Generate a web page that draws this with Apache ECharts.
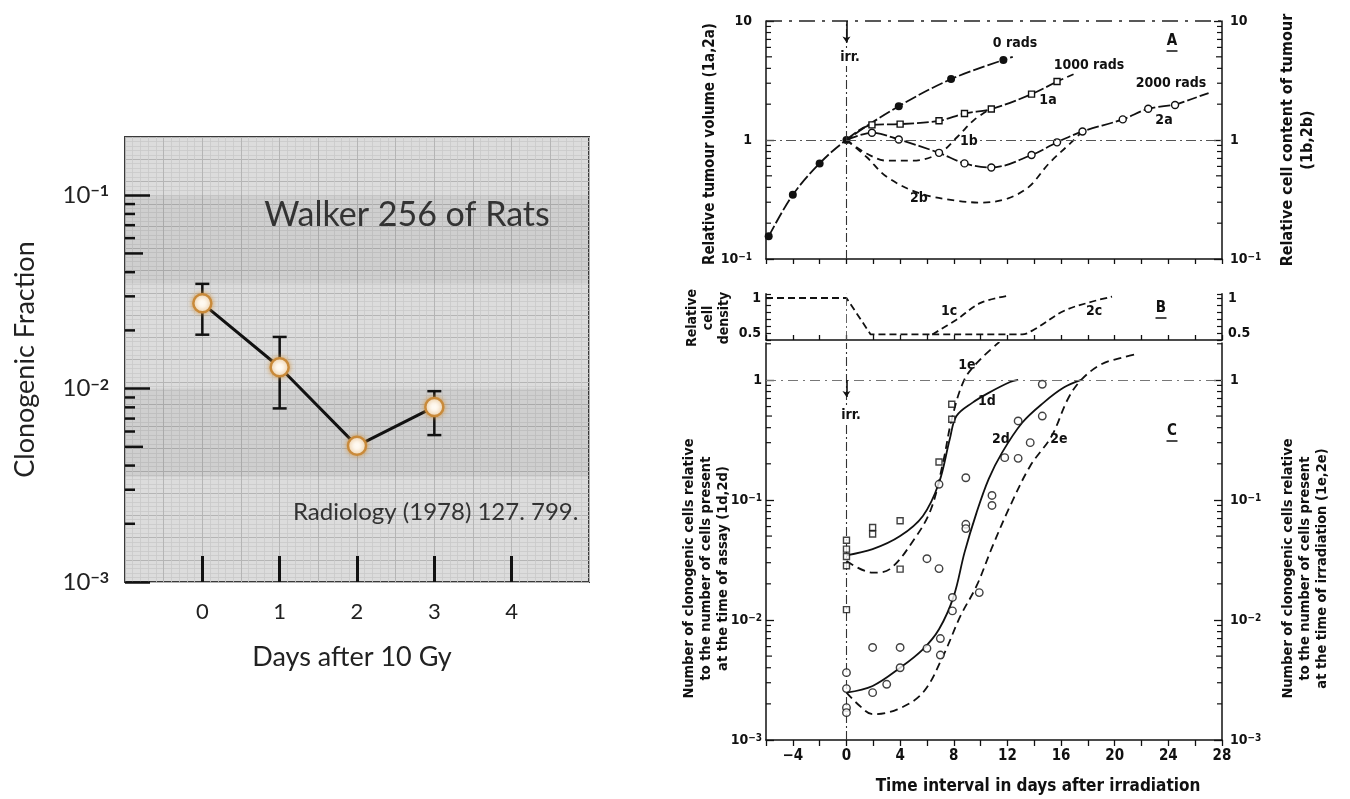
<!DOCTYPE html>
<html><head><meta charset="utf-8">
<script src="https://cdn.jsdelivr.net/npm/echarts@6/dist/echarts.min.js"></script>
<style>html,body{margin:0;padding:0;background:#fff}#c{width:1350px;height:799px}</style>
</head><body><div id="c"></div><script>
// ---------- Left panel data (Walker 256) ----------
const L_DAYS = [0, 1, 2, 3];
const L_FRACTION = [0.0276, 0.0129, 0.00506, 0.00804];
const L_ERR_LOW = [0.019, 0.0079, null, 0.00575];
const L_ERR_HIGH = [0.0348, 0.0185, null, 0.0097];
const L_X_LABELS = [0, 1, 2, 3, 4];
const L_Y_MAJOR = [0.001, 0.01, 0.1];
const L_Y_MINOR = [0.002,0.003,0.004,0.005,0.006,0.007,0.008,0.009,0.02,0.03,0.04,0.05,0.06,0.07,0.08,0.09];

// ---------- Right panel A ----------
const A_0RADS = [[-5.8,0.155],[-4,0.346],[-2,0.636],[0,1],[3.9,1.92],[7.8,3.25],[11.7,4.7]];
const A_0RADS_TAIL = [[11.7,4.7],[12.4,5.0]];
const A_1A = [[0,1],[1.9,1.34],[4.0,1.36],[6.9,1.45],[8.8,1.67],[10.8,1.82],[13.8,2.43],[15.7,3.1]];
const A_1A_TAIL = [[15.7,3.1],[17,3.6]];
const A_1B = [[0,1],[1.5,0.77],[3,0.67],[4.9,0.67],[6.9,0.77],[8.3,1.07],[9.5,1.47],[10.6,1.79]];
const A_2A = [[0,1],[1.9,1.15],[3.9,1.01],[6.9,0.78],[8.8,0.636],[10.8,0.588],[13.8,0.747],[15.7,0.956],[17.6,1.18],[20.6,1.49],[22.5,1.83],[24.5,1.97]];
const A_2A_TAIL = [[24.5,1.97],[27,2.48]];
const A_2B = [[0,1],[1.5,0.72],[3,0.49],[5.5,0.355],[8.3,0.308],[10.1,0.298],[12,0.322],[13.6,0.404],[15.1,0.636],[16.7,0.94],[17.6,1.18]];
const A_Y_MAJOR = [0.1, 1, 10];
const A_Y_MINOR = [0.2,0.3,0.4,0.5,0.6,0.7,0.8,0.9,2,3,4,5,6,7,8,9];

// ---------- Right panel B ----------
const B_COMMON = [[-6,1],[0,1],[1.8,0.48],[6.4,0.48]];
const B_1C = [[6.4,0.48],[8.2,0.69],[10,0.93],[12,1.03]];
const B_2C = [[6.4,0.48],[13.1,0.48],[14,0.55],[16.2,0.815],[18.1,0.937],[19.8,1.02]];

// ---------- Right panel C ----------
const C_1D = [[0,0.0346],[1.95,0.0389],[4,0.05],[5.7,0.0736],[6.9,0.139],[7.7,0.32],[8.2,0.5],[9.4,0.647],[10.6,0.78],[12.2,0.96],[12.8,1.0]];
const C_1E = [[0,0.031],[1.95,0.0248],[3.2,0.0264],[5.05,0.047],[6.3,0.0836],[7.2,0.205],[7.85,0.47],[8.8,1.01],[10,1.49],[11.4,2.07]];
const C_2D = [[0,0.00248],[1.95,0.00282],[4,0.004],[5.7,0.0057],[6.9,0.00836],[8,0.0158],[8.8,0.0364],[9.7,0.0784],[10.6,0.149],[11.6,0.248],[13.1,0.44],[14.7,0.647],[16.2,0.863],[17.5,1.0]];
const C_2E = [[0,0.00248],[1,0.00192],[1.95,0.00164],[3.8,0.0018],[5.7,0.00248],[7.2,0.005],[8.5,0.0108],[9.7,0.0192],[10.9,0.0414],[12.2,0.089],[13.7,0.192],[15.3,0.341],[16.5,0.69],[17.5,1.0],[19,1.35],[20.6,1.54],[21.6,1.64]];
const C_SQUARES = [[0,0.0462],[0,0.0389],[0,0.0338],[0,0.0283],[0,0.0122],[1.95,0.059],[1.95,0.052],[4,0.067],[4,0.0265],[6.9,0.207],[7.85,0.627],[7.85,0.47]];
const C_CIRCLES = [[6.9,0.135],[8.9,0.153],[8.9,0.0627],[8.9,0.0577],[6,0.0324],[6.9,0.0268],[14.6,0.92],[12.8,0.455],[14.6,0.5],[11.8,0.225],[12.8,0.222],[13.7,0.3],[10.85,0.109],[10.85,0.09],[9.9,0.0169],[7.9,0.0154],[7.9,0.0119],[1.95,0.0059],[4,0.0059],[6,0.0058],[7,0.007],[7,0.0051],[4,0.004],[0,0.00364],[0,0.00268],[0,0.00186],[0,0.00169],[1.95,0.00248],[3,0.00291]];
const C_Y_MAJOR = [0.001, 0.01, 0.1, 1];
const C_Y_MINOR = [0.002,0.003,0.004,0.005,0.006,0.007,0.008,0.009,0.02,0.03,0.04,0.05,0.06,0.07,0.08,0.09,0.2,0.3,0.4,0.5,0.6,0.7,0.8,0.9,2];
const X_LABEL_DAYS = [-4, 0, 4, 8, 12, 16, 20, 24, 28];

// ---------- styling ----------
const RF = "'DejaVu Sans Condensed','Liberation Sans Narrow',sans-serif";
const LF = "Lato,'Open Sans',sans-serif";
const INK = '#111';
const BW = 'bold';

function supLabel(v){
  const lg = Math.log10(v), e = Math.round(lg);
  if (Math.abs(lg - e) > 0.01) return '';
  if (e === 0) return '{b|1}';
  if (e === 1) return '{b|10}';
  return '{b|10}{s|' + (e < 0 ? '\u2212' : '') + Math.abs(e) + '}';
}
const richR = {b:{fontFamily:RF,fontSize:14,fontWeight:BW,color:INK,verticalAlign:'bottom'}, s:{fontFamily:RF,fontSize:10,fontWeight:BW,color:INK,verticalAlign:'top'}};
const richL = {b:{fontFamily:LF,fontSize:24,color:'#222',verticalAlign:'bottom'}, s:{fontFamily:LF,fontSize:16,fontWeight:'bold',color:'#222',verticalAlign:'top'}};

function tickSeries(xi, yi, xEdge, dir, values, lenOf, width){
  return {type:'custom', xAxisIndex:xi, yAxisIndex:yi, silent:true, z:6, clip:false,
    encode:{x:0,y:1},
    data: values.map(v => [xEdge, v]),
    renderItem(params, api){
      const v = api.value(1);
      const p = api.coord([api.value(0), v]);
      const L = lenOf(v);
      return {type:'line', shape:{x1:p[0],y1:p[1],x2:p[0]+dir*L,y2:p[1]}, style:{stroke:INK,lineWidth:width}};
    }};
}
function isFive(v){ const m = v / Math.pow(10, Math.floor(Math.log10(v)+1e-9)); return Math.abs(m-5) < 1e-6; }
function noFirst(arr){ return arr.map((p,i) => i === 0 ? {value:p, symbol:'none'} : p); }

const grids = [
  {left:125, top:137, width:464, height:445, show:true, backgroundColor:'#dcdcdc', borderColor:'#3a3a3a', borderWidth:2, outerBoundsMode:'none'},
  {left:766, top:21, width:456, height:238, outerBoundsMode:'none'},
  {left:766, top:293.8, width:456, height:46.2, outerBoundsMode:'none'},
  {left:766, top:343, width:456, height:397, outerBoundsMode:'none'}
];
const hidden = {axisLine:{show:false, onZero:false}, axisTick:{show:false}, axisLabel:{show:false}};
const rightX = (gi, inside, extra) => Object.assign({gridIndex:gi, type:'value', min:-6, max:28, interval:2,
  axisLine:{show:true, onZero:false, lineStyle:{color:INK, width:1.5}},
  axisTick:{show:true, inside:inside, length:5, lineStyle:{color:INK, width:1.3}},
  axisLabel:{show:false}, splitLine:{show:false}}, extra || {});
const rightLogY = (gi, pos, min, max, major, margin, extra) => Object.assign({gridIndex:gi, type:'log', logBase:10, min:min, max:max, position:pos,
  axisLine:{show:true, onZero:false, lineStyle:{color:INK, width:1.5}},
  axisTick:{show:true, inside:true, length:8, customValues:major, lineStyle:{color:INK, width:1.3}},
  axisLabel:{customValues:major, formatter:supLabel, rich:richR, margin:margin},
  splitLine:{show:false}, nameMoveOverlap:false}, extra || {});
const bY = (pos) => ({gridIndex:2, type:'value', min:0.4, max:1.06, interval:0.1, position:pos,
  axisLine:{show:true, onZero:false, lineStyle:{color:INK, width:1.5}},
  axisTick:{show:true, inside:true, length:5, lineStyle:{color:INK, width:1.2}},
  axisLabel:{fontFamily:RF, fontSize:14, fontWeight:BW, color:INK, margin: pos==='left'?5:6,
    formatter: v => Math.abs(v-1) < 1e-6 ? '1' : (Math.abs(v-0.5) < 1e-6 ? '0.5' : '')},
  splitLine:{show:false}});

const xAxes = [
  {gridIndex:0, type:'value', min:-1, max:5, interval:1,
   axisLine:{show:false, onZero:false},
   axisTick:{show:true, inside:true, length:26, customValues:L_X_LABELS, lineStyle:{color:INK, width:3}},
   axisLabel:{customValues:L_X_LABELS, fontFamily:LF, fontSize:22, color:'#222', margin:19,
     formatter: v => (v >= 0 && v <= 4) ? String(v) : ''},
   splitLine:{show:false},
   name:'Days after 10 Gy', nameLocation:'middle', nameGap:62, nameMoveOverlap:false,
   nameTextStyle:{fontFamily:LF, fontSize:27, color:'#222', padding:[0,10,0,0]}},
  Object.assign({gridIndex:0, type:'value', min:0, max:12, interval:1,
   splitLine:{show:true, lineStyle:{color:'#b5b5b5', width:1}},
   minorTick:{show:false, splitNumber:5},
   minorSplitLine:{show:true, lineStyle:{color:'#c9c9c9', width:0.8}}}, hidden),
  rightX(1, false),
  rightX(2, true),
  rightX(3, false, {
    axisTick:{show:true, inside:false, length:6, lineStyle:{color:INK, width:1.3}},
    axisLabel:{show:true, customValues:X_LABEL_DAYS, fontFamily:RF, fontSize:15, fontWeight:BW, color:INK, margin:9,
      formatter: v => (v % 4 === 0 && v >= -4) ? (v < 0 ? '\u2212' + (-v) : String(v)) : ''},
    name:'Time interval in days after irradiation', nameLocation:'middle', nameGap:38, nameMoveOverlap:false,
    nameTextStyle:{fontFamily:RF, fontSize:17, fontWeight:BW, color:INK, padding:[0,0,0,88]}})
];

const yAxes = [
  {gridIndex:0, type:'log', logBase:10, min:0.001, max:0.2,
   axisLine:{show:false, onZero:false},
   axisTick:{show:true, inside:true, length:25, customValues:L_Y_MAJOR, lineStyle:{color:INK, width:2.5}},
   axisLabel:{customValues:L_Y_MAJOR, formatter:supLabel, rich:richL, margin:16},
   splitLine:{show:false},
   name:'Clonogenic Fraction', nameLocation:'middle', nameGap:86, nameMoveOverlap:false,
   nameTextStyle:{fontFamily:LF, fontSize:27, color:'#222'}},
  Object.assign({gridIndex:0, type:'value', min:0, max:100, interval:5,
   splitLine:{show:true, lineStyle:{color:'#b5b5b5', width:1}},
   minorTick:{show:false, splitNumber:5},
   minorSplitLine:{show:true, lineStyle:{color:'#c9c9c9', width:0.8}}}, hidden),
  rightLogY(1, 'left', 0.1, 10, A_Y_MAJOR, 14, {name:'Relative tumour volume (1a,2a)', nameLocation:'middle', nameGap:48,
    nameTextStyle:{fontFamily:RF, fontSize:15, fontWeight:BW, color:INK, padding:[0,8,0,0]}}),
  rightLogY(1, 'right', 0.1, 10, A_Y_MAJOR, 8, {name:'Relative cell content of tumour\n(1b,2b)', nameLocation:'middle', nameGap:56, nameRotate:90,
    nameTextStyle:{fontFamily:RF, fontSize:16, fontWeight:BW, color:INK, lineHeight:20, align:'center'}}),
  bY('left'),
  bY('right'),
  rightLogY(3, 'left', 0.001, 2.03, C_Y_MAJOR, 4, {name:'Number of clonogenic cells relative\nto the number of cells present\nat the time of assay (1d,2d)', nameLocation:'middle', nameGap:34,
    nameTextStyle:{fontFamily:RF, fontSize:14.5, fontWeight:BW, color:INK, lineHeight:17, align:'center', padding:[0,54,0,0]}}),
  rightLogY(3, 'right', 0.001, 2.03, C_Y_MAJOR, 8, {name:'Number of clonogenic cells relative\nto the number of cells present\nat the time of irradiation (1e,2e)', nameLocation:'middle', nameGap:58, nameRotate:90,
    nameTextStyle:{fontFamily:RF, fontSize:14.5, fontWeight:BW, color:INK, lineHeight:17, align:'center', padding:[0,54,0,0]}})
];

const dashDot = [9,3,2,3];
const openSym = {color:'#fff', borderColor:INK, borderWidth:1.4};
const lineDefaults = {type:'line', smooth:0.35, animation:false, z:4};
const LW = 1.8;

const series = [
  // ---- left panel ----
  {type:'custom', name:'error', xAxisIndex:0, yAxisIndex:0, z:3, encode:{x:0, y:[1,2]},
   data: L_DAYS.map((d,i) => [d, L_ERR_LOW[i], L_ERR_HIGH[i]]).filter(r => r[1] != null),
   renderItem(params, api){
     const lo = api.coord([api.value(0), api.value(1)]);
     const hi = api.coord([api.value(0), api.value(2)]);
     const w = 7, st = {stroke:INK, lineWidth:2.5};
     return {type:'group', children:[
       {type:'line', shape:{x1:lo[0],y1:lo[1],x2:hi[0],y2:hi[1]}, style:st},
       {type:'line', shape:{x1:lo[0]-w,y1:lo[1],x2:lo[0]+w,y2:lo[1]}, style:st},
       {type:'line', shape:{x1:hi[0]-w,y1:hi[1],x2:hi[0]+w,y2:hi[1]}, style:st}]};
   }},
  {type:'line', name:'Clonogenic Fraction', xAxisIndex:0, yAxisIndex:0, z:5, animation:false,
   data: L_DAYS.map((d,i) => [d, L_FRACTION[i]]),
   symbol:'circle', symbolSize:18,
   itemStyle:{color:'#fffaf2', borderColor:'#c98a3a', borderWidth:2.5, shadowBlur:5, shadowColor:'rgba(210,150,70,0.8)'},
   lineStyle:{color:INK, width:3},
   markArea:{silent:true, itemStyle:{color:'rgba(0,0,0,0.06)'}, data:[[{yAxis:0.035},{yAxis:0.1}],[{yAxis:0.0035},{yAxis:0.01}]]}},
  tickSeries(0, 0, -1, 1, L_Y_MINOR, v => isFive(v) ? 18 : 10, 2.5),

  // ---- panel A ----
  Object.assign({}, lineDefaults, {name:'0 rads', xAxisIndex:2, yAxisIndex:2, data:A_0RADS,
   symbol:'circle', symbolSize:8, itemStyle:{color:INK},
   lineStyle:{color:INK, width:LW, type:[12,3]},
   markLine:{silent:true, symbol:'none', animation:false, label:{show:false}, data:[
     {yAxis:10, lineStyle:{type:[16,7,3,7], color:'#222', width:1.5}},
     {yAxis:1, lineStyle:{type:[10,4,2,4], color:'#555', width:1.1}},
     {xAxis:0, lineStyle:{type:dashDot, color:'#333', width:1.1}},
     [{coord:[0,10], symbol:'none'}, {coord:[0,6.6], symbol:'arrow', symbolSize:6, lineStyle:{type:'solid', color:INK, width:1.6}}]
   ]}}),
  Object.assign({}, lineDefaults, {name:'0 rads tail', xAxisIndex:2, yAxisIndex:2, data:A_0RADS_TAIL, symbol:'none', lineStyle:{color:INK, width:LW, type:[4,3]}}),
  Object.assign({}, lineDefaults, {name:'1a', xAxisIndex:2, yAxisIndex:2, data:noFirst(A_1A), symbol:'rect', symbolSize:6, itemStyle:openSym, lineStyle:{color:INK, width:LW, type:[12,3]}}),
  Object.assign({}, lineDefaults, {name:'1a tail', xAxisIndex:2, yAxisIndex:2, data:A_1A_TAIL, symbol:'none', lineStyle:{color:INK, width:LW, type:[7,4]}}),
  Object.assign({}, lineDefaults, {name:'1b', xAxisIndex:2, yAxisIndex:2, data:A_1B, symbol:'none', z:3, lineStyle:{color:INK, width:LW, type:[7,5]}}),
  Object.assign({}, lineDefaults, {name:'2a', xAxisIndex:2, yAxisIndex:2, data:noFirst(A_2A), symbol:'circle', symbolSize:7, itemStyle:openSym, lineStyle:{color:INK, width:LW, type:[12,3]}}),
  Object.assign({}, lineDefaults, {name:'2a tail', xAxisIndex:2, yAxisIndex:2, data:A_2A_TAIL, symbol:'none', lineStyle:{color:INK, width:LW, type:[10,3]}}),
  Object.assign({}, lineDefaults, {name:'2b', xAxisIndex:2, yAxisIndex:2, data:A_2B, symbol:'none', z:3, lineStyle:{color:INK, width:LW, type:[7,5]}}),
  tickSeries(2, 2, -6, 1, A_Y_MINOR, v => isFive(v) ? 6 : 5, 1.2),
  tickSeries(2, 3, 28, -1, A_Y_MINOR, v => isFive(v) ? 6 : 5, 1.2),

  // ---- panel B ----
  Object.assign({}, lineDefaults, {name:'B common', xAxisIndex:3, yAxisIndex:4, data:B_COMMON, smooth:false, symbol:'none', lineStyle:{color:INK, width:LW, type:[7,4]},
   markLine:{silent:true, symbol:'none', animation:false, label:{show:false}, data:[{xAxis:0, lineStyle:{type:dashDot, color:'#555', width:0.9}}]}}),
  Object.assign({}, lineDefaults, {name:'1c', xAxisIndex:3, yAxisIndex:4, data:B_1C, symbol:'none', lineStyle:{color:INK, width:LW, type:[7,4]}}),
  Object.assign({}, lineDefaults, {name:'2c', xAxisIndex:3, yAxisIndex:4, data:B_2C, symbol:'none', lineStyle:{color:INK, width:LW, type:[7,4]}}),

  // ---- panel C ----
  Object.assign({}, lineDefaults, {name:'1d', xAxisIndex:4, yAxisIndex:6, data:C_1D, symbol:'none', lineStyle:{color:INK, width:LW},
   markLine:{silent:true, symbol:'none', animation:false, label:{show:false}, data:[
     {yAxis:1, lineStyle:{type:[10,5,2,5], color:'#777', width:1.1}},
     {xAxis:0, lineStyle:{type:dashDot, color:'#333', width:1.1}},
     [{coord:[0,1], symbol:'none'}, {coord:[0,0.72], symbol:'arrow', symbolSize:6, lineStyle:{type:'solid', color:INK, width:1.6}}]
   ]}}),
  Object.assign({}, lineDefaults, {name:'1e', xAxisIndex:4, yAxisIndex:6, data:C_1E, symbol:'none', lineStyle:{color:INK, width:LW, type:[8,5]}}),
  Object.assign({}, lineDefaults, {name:'2d', xAxisIndex:4, yAxisIndex:6, data:C_2D, symbol:'none', lineStyle:{color:INK, width:LW}}),
  Object.assign({}, lineDefaults, {name:'2e', xAxisIndex:4, yAxisIndex:6, data:C_2E, symbol:'none', lineStyle:{color:INK, width:LW, type:[8,5]}}),
  {type:'scatter', name:'1000 rads', xAxisIndex:4, yAxisIndex:6, data:C_SQUARES, symbol:'rect', symbolSize:6, itemStyle:openSym, z:6, animation:false},
  {type:'scatter', name:'2000 rads', xAxisIndex:4, yAxisIndex:6, data:C_CIRCLES, symbol:'circle', symbolSize:7.5, itemStyle:openSym, z:6, animation:false},
  tickSeries(4, 6, -6, 1, C_Y_MINOR, v => isFive(v) ? 6 : 5, 1.2),
  tickSeries(4, 7, 28, -1, C_Y_MINOR, v => isFive(v) ? 6 : 5, 1.2)
];

function txt(x, y, s, o){
  o = o || {};
  return {type:'text', x:x, y:y, z:50, silent:true, rotation:o.rot||0,
    style:{text:s, fontFamily:o.font||RF, fontSize:o.size||14, fontWeight:o.weight||BW, fill:o.color||INK, align:o.align||'center', verticalAlign:'middle',
      lineHeight:o.lh, backgroundColor:o.bg, padding:o.pad}};
}
function uline(x, y, w){ return {type:'line', z:50, silent:true, shape:{x1:x-w/2, y1:y, x2:x+w/2, y2:y}, style:{stroke:INK, lineWidth:1.5}}; }

const graphic = [
  txt(407, 215, 'Walker 256 of Rats', {font:LF, size:34, color:'#333', weight:'normal'}),
  txt(293, 512, 'Radiology (1978) 127. 799.', {font:LF, size:24, color:'#333', align:'left', weight:'normal'}),
  // panel A annotations
  txt(1015, 43, '0 rads'), txt(1089, 65, '1000 rads'), txt(1171, 83, '2000 rads'),
  txt(1048, 100, '1a'), txt(969, 141, '1b', {bg:'#fff'}), txt(1164, 120, '2a'), txt(919, 198, '2b'),
  txt(1172, 41, 'A', {size:15}), uline(1172, 51, 11),
  txt(850, 57, 'irr.', {bg:'#fff', pad:[2,1]}),
  // panel B
  txt(949, 311, '1c'), txt(1094, 311, '2c'), txt(1161, 308, 'B', {size:15}), uline(1161, 318, 11),
  txt(708, 318, 'Relative\ncell\ndensity', {lh:16, rot:Math.PI/2}),
  // panel C
  txt(967, 365, '1e'), txt(987, 401, '1d'), txt(1001, 439, '2d'), txt(1059, 439, '2e'),
  txt(1172, 431, 'C', {size:15}), uline(1172, 441, 11),
  txt(851, 415, 'irr.', {bg:'#fff', pad:[2,1]})
];

const chart = echarts.init(document.getElementById('c'), null, {renderer:'canvas'});
chart.setOption({
  animation:false, backgroundColor:'#ffffff',
  grid: grids, xAxis: xAxes, yAxis: yAxes, series: series, graphic: graphic
});
</script></body></html>
